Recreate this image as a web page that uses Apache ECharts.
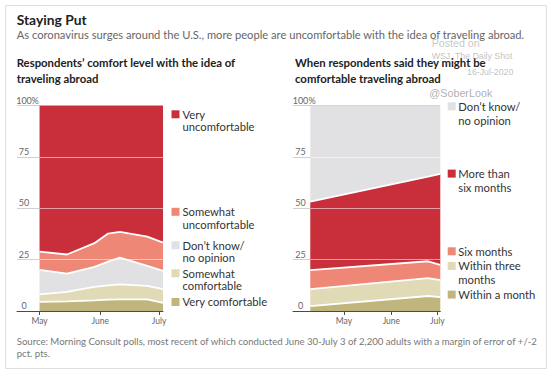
<!DOCTYPE html>
<html>
<head>
<meta charset="utf-8">
<script src="https://cdn.jsdelivr.net/npm/echarts@6/dist/echarts.min.js"></script>
<style>
html,body{margin:0;padding:0;background:#fff;}
#chart{width:554px;height:373px;}
</style>
</head>
<body>
<div id="chart"></div>
<script>
// ---------- DATA ----------
const monthLabels = ['May', 'June', 'July'];
const monthDays = [0, 31, 61];            // days after May 1, 2020
const yTicks = [0, 25, 50, 75, 100];

// Left: respondents' comfort level (days after May 1)
const leftDays = [0, 14, 28, 35, 41, 55, 63];
const veryComfortable       = [4.4, 4.7, 5.2, 5.5, 5.7, 5.7, 4.0];
const somewhatComfortable   = [3.7, 4.6, 6.5, 7.0, 7.3, 6.5, 6.6];
const dontKnowLeft          = [11.9, 8.9, 9.8, 11.5, 13.0, 9.8, 8.9];
const somewhatUncomfortable = [8.9, 9.3, 11.5, 13.7, 12.5, 14.2, 13.8];
const veryUncomfortable     = [71.1, 72.5, 67.0, 62.3, 61.5, 63.8, 66.7];

// Right: when respondents might be comfortable (days after May 1)
const rightDays = [-22, 55, 63];
const withinMonth    = [2.4, 7.3, 6.8];
const withinThree    = [8.2, 8.7, 8.2];
const sixMonths      = [9.3, 8.2, 7.4];
const moreThanSix    = [33.3, 41.2, 44.3];
const dontKnowRight  = [46.8, 34.6, 33.3];

const leftNames  = ['Very comfortable', 'Somewhat comfortable', 'Don’t know/no opinion', 'Somewhat uncomfortable', 'Very uncomfortable'];
const rightNames = ['Within a month', 'Within three months', 'Six months', 'More than six months', 'Don’t know/no opinion'];

// ---------- STYLE ----------
const C = { red:'#c82f3a', salmon:'#ef8777', gray:'#e1e1e3', khaki:'#e0dbb6', olive:'#c0b67d' };
const leftColors  = [C.olive, C.khaki, C.gray, C.salmon, C.red];
const rightColors = [C.olive, C.khaki, C.salmon, C.red, C.gray];
const FONT = 'Lato';

const cv = document.createElement('canvas').getContext('2d');
function fit(text, weight, family, target) {
  cv.font = weight + ' 100px ' + family;
  return +(100 * target / cv.measureText(text).width).toFixed(2);
}

const titleSize = fit('Staying Put', 'bold', FONT, 70);
const subSize = fit('As coronavirus surges around the U.S., more people are uncomfortable with the idea of traveling abroad.', 'normal', FONT, 508);
const headSize = (fit('Respondents’ comfort level with the idea of', 'bold', FONT, 220) + fit('When respondents said they might be', 'bold', FONT, 190)) / 2;
const srcSize = fit('Source: Morning Consult polls, most recent of which conducted June 30-July 3 of 2,200 adults with a margin of error of +/-2', 'normal', FONT, 523);
const legSize = fit('Very comfortable', 'normal', FONT, 85);
const wmFont = 'Liberation Sans';
const wmSize = fit('WSJ, The Daily Shot', 'normal', wmFont, 81);
const wmSize2 = fit('@SoberLook', 'normal', wmFont, 63);
const wmSize3 = fit('Posted on', 'normal', wmFont, 48);

function txt(text, x, y, size, color, weight, align, family) {
  return { type:'text', x:x, y:y, silent:true, z:10,
    style:{ text:text, fill:color, font:(weight||'normal') + ' ' + size + 'px ' + (family||FONT),
      textVerticalAlign:'middle', verticalAlign:'middle', textAlign:align||'left', align:align||'left' } };
}

const leftLegend = [
  { lines:['Very','uncomfortable'], color:C.red, y:114 },
  { lines:['Somewhat','uncomfortable'], color:C.salmon, y:211.5 },
  { lines:['Don’t know/','no opinion'], color:C.gray, y:245 },
  { lines:['Somewhat','comfortable'], color:C.khaki, y:273 },
  { lines:['Very comfortable'], color:C.olive, y:301.7 }
];
const rightLegend = [
  { lines:['Don’t know/','no opinion'], color:C.gray, y:106 },
  { lines:['More than','six months'], color:C.red, y:173.3 },
  { lines:['Six months'], color:C.salmon, y:251 },
  { lines:['Within three','months'], color:C.khaki, y:265.7 },
  { lines:['Within a month'], color:C.olive, y:294.3 }
];

const graphics = [
  { type:'rect', shape:{x:5.5, y:5.5, width:541, height:363}, style:{fill:'none', stroke:'#dedede', lineWidth:1}, silent:true, z:0 },
  txt('Staying Put', 16.7, 19.5, titleSize, '#222', 'bold'),
  txt('As coronavirus surges around the U.S., more people are uncomfortable with the idea of traveling abroad.', 16.7, 34.5, subSize, '#666'),
  txt('Respondents’ comfort level with the idea of', 16.7, 62.7, headSize, '#222', 'bold'),
  txt('traveling abroad', 16.7, 78.3, headSize, '#222', 'bold'),
  txt('When respondents said they might be', 295, 62.7, headSize, '#222', 'bold'),
  txt('comfortable traveling abroad', 295, 78.3, headSize, '#222', 'bold'),
  txt('Source: Morning Consult polls, most recent of which conducted June 30-July 3 of 2,200 adults with a margin of error of +/-2', 16.7, 341.7, srcSize, '#777'),
  txt('pct. pts.', 16.7, 353, srcSize, '#777'),
  txt('Posted on', 431.7, 42.7, wmSize3, 'rgba(150,150,150,0.55)', 'normal', 'left', wmFont),
  txt('WSJ, The Daily Shot', 431.7, 55.7, wmSize, 'rgba(150,150,150,0.6)', 'normal', 'left', wmFont),
  txt('16-Jul-2020', 513.3, 72.3, wmSize, 'rgba(150,150,150,0.6)', 'normal', 'right', wmFont),
  txt('@SoberLook', 429.3, 92.7, wmSize2, 'rgba(140,140,140,0.7)', 'normal', 'left', wmFont)
];
function addLegend(items, sqX, txX, lh) {
  items.forEach(it => {
    graphics.push({ type:'rect', shape:{x:sqX, y:it.y - 3.7, width:8, height:8}, style:{fill:it.color}, silent:true, z:10 });
    it.lines.forEach((l, i) => graphics.push(txt(l, txX, it.y + i * lh, legSize, '#333')));
  });
}
addLegend(leftLegend, 171.5, 182.5, 12.8);
addLegend(rightLegend, 447.7, 458.3, 14.2);

// ---------- AXES ----------
function xAxisCfg(gi, minDay, maxDay) {
  return { gridIndex:gi, type:'value', min:minDay, max:maxDay, z:4,
    axisLine:{ show:true, onZero:false, lineStyle:{color:'#4a4a4a', width:1} },
    axisTick:{ show:true, customValues:monthDays, length:4, lineStyle:{color:'#4a4a4a'} },
    axisLabel:{ customValues:monthDays, formatter:v => monthLabels[monthDays.indexOf(v)],
      color:'#666', fontSize:8.5, fontFamily:FONT, margin:5, hideOverlap:false },
    splitLine:{ show:false } };
}
function yAxisCfg(gi, numW) {
  return { gridIndex:gi, type:'value', min:0, max:100, interval:25,
    axisLine:{show:false}, axisTick:{show:false},
    splitLine:{ show:true, lineStyle:{ color:'#d0d0d0', width:1 } },
    axisLabel:{ inside:true, align:'left', verticalAlign:'bottom', margin:0,
      padding:[0,0,1,0], color:'#666', fontSize:9, fontFamily:FONT,
      formatter: v => '{n|' + v + '}{p|' + (v === 100 ? '%' : '') + '}',
      rich:{ n:{ color:'#666', fontSize:9, fontFamily:FONT, width:numW, align:'right' },
             p:{ color:'#666', fontSize:9, fontFamily:FONT, width:8, align:'left' } } } };
}

// data rows are [percent, day] so that the stacked dimension is the percent (y)
function buildSeries(days, arrays, names, colors, xi, stack) {
  return arrays.map((vals, k) => {
    const top = k === arrays.length - 1;
    const s = {
      name:names[k], type:'line', stack:stack, xAxisIndex:xi, yAxisIndex:xi,
      encode:{ x:1, y:0 },
      data: days.map((d, i) => [vals[i], d]),
      symbol:'none', smooth:false, silent:true,
      lineStyle:{ color:'#fff', width: top ? 0 : 1.8 },
      areaStyle:{ color:colors[k], opacity:1 },
      emphasis:{ disabled:true }, z:2
    };
    if (top) {
      s.markLine = { silent:true, symbol:'none', label:{show:false}, animation:false,
        lineStyle:{ color:'rgba(255,255,255,0.55)', type:'solid', width:1 },
        emphasis:{ disabled:true },
        data: yTicks.slice(1, 4).map(v => [{ coord:[days[0], v] }, { coord:[days[days.length - 1], v] }]) };
    }
    return s;
  });
}

const chart = echarts.init(document.getElementById('chart'), null, { renderer:'svg', width:554, height:373 });
chart.setOption({
  animation:false,
  backgroundColor:'#fff',
  textStyle:{ fontFamily:FONT },
  grid:[
    { left:17, top:105.5, width:146, height:205.5 },
    { left:293, top:105.5, width:147.3, height:205.5 }
  ],
  xAxis:[ xAxisCfg(0, -11.5, 63), xAxisCfg(1, -33.3, 63) ],
  yAxis:[ yAxisCfg(0, 14), yAxisCfg(1, 15) ],
  series: [
    ...buildSeries(leftDays, [veryComfortable, somewhatComfortable, dontKnowLeft, somewhatUncomfortable, veryUncomfortable], leftNames, leftColors, 0, 'left'),
    ...buildSeries(rightDays, [withinMonth, withinThree, sixMonths, moreThanSix, dontKnowRight], rightNames, rightColors, 1, 'right')
  ],
  graphic: graphics
});
</script>
</body>
</html>
